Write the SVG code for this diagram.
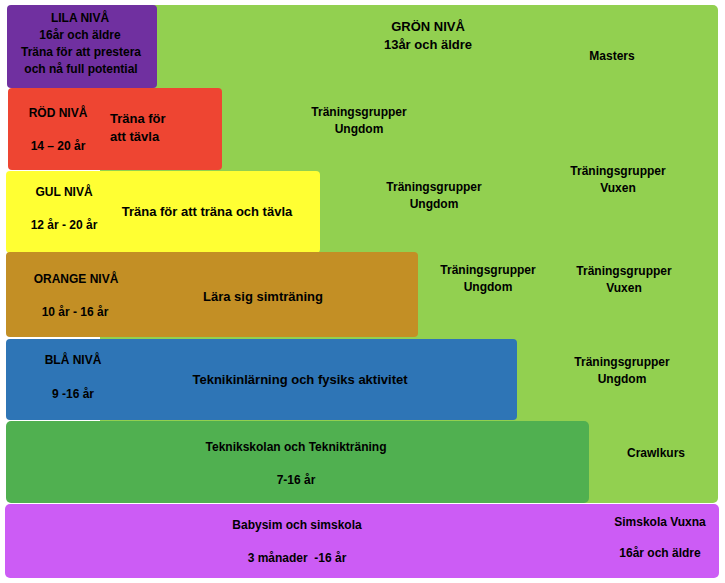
<svg xmlns="http://www.w3.org/2000/svg" width="725" height="583" viewBox="0 0 725 583">
<style>
text{font-family:"Liberation Sans",Arial,sans-serif;font-weight:bold;fill:#000;}
.s12{font-size:12px;}
.s13{font-size:13px;}
.c{text-anchor:middle;}
</style>
<rect width="725" height="583" fill="#ffffff"/>
<g id="gron">
<rect x="100" y="5" width="618" height="498" rx="5" fill="#92D050"/>
<text class="s13 c" x="428" y="31">GRÖN NIVÅ</text>
<text class="s13 c" x="428" y="49">13år och äldre</text>
<text class="s12 c" x="612" y="60">Masters</text>
<text class="s12 c" x="359" y="116">Träningsgrupper</text>
<text class="s12 c" x="359" y="133">Ungdom</text>
<text class="s12 c" x="434" y="191">Träningsgrupper</text>
<text class="s12 c" x="434" y="208">Ungdom</text>
<text class="s12 c" x="618" y="175">Träningsgrupper</text>
<text class="s12 c" x="618" y="192">Vuxen</text>
<text class="s12 c" x="488" y="274">Träningsgrupper</text>
<text class="s12 c" x="488" y="291">Ungdom</text>
<text class="s12 c" x="624" y="275">Träningsgrupper</text>
<text class="s12 c" x="624" y="292">Vuxen</text>
<text class="s12 c" x="622" y="366">Träningsgrupper</text>
<text class="s12 c" x="622" y="383">Ungdom</text>
<text class="s12 c" x="656" y="457">Crawlkurs</text>
</g>
<g id="lila">
<rect x="7" y="5" width="150" height="83" rx="4" fill="#7030A0"/>
<text class="s12 c" x="80" y="22">LILA NIVÅ</text>
<text class="s12 c" x="80" y="39">16år och äldre</text>
<text class="s12 c" x="81" y="56">Träna för att prestera</text>
<text class="s12 c" x="81" y="73">och nå full potential</text>
</g>
<g id="rod">
<rect x="8" y="88" width="214" height="82" rx="4" fill="#EE4532"/>
<text class="s12 c" x="58" y="117">RÖD NIVÅ</text>
<text class="s12 c" x="58" y="150">14 – 20 år</text>
<text class="s13" x="110" y="123">Träna för</text>
<text class="s13" x="110" y="141">att tävla</text>
</g>
<g id="gul">
<rect x="6" y="171" width="314" height="82" rx="4" fill="#FFFF33"/>
<text class="s12 c" x="64" y="196">GUL NIVÅ</text>
<text class="s12 c" x="64" y="229">12 år - 20 år</text>
<text class="s13 c" x="207" y="216">Träna för att träna och tävla</text>
</g>
<g id="orange">
<rect x="6" y="252" width="412" height="85" rx="4" fill="#C38F25"/>
<text class="s12 c" x="76" y="283">ORANGE NIVÅ</text>
<text class="s12 c" x="75" y="316">10 år - 16 år</text>
<text class="s13 c" x="263" y="301">Lära sig simträning</text>
</g>
<g id="bla">
<rect x="6" y="339" width="511" height="81" rx="4" fill="#2E75B6"/>
<text class="s12 c" x="73" y="364">BLÅ NIVÅ</text>
<text class="s12 c" x="73" y="398">9 -16 år</text>
<text class="s13 c" x="300" y="384">Teknikinlärning och fysiks aktivitet</text>
</g>
<g id="teknikskolan">
<rect x="6" y="421" width="583" height="82" rx="5" fill="#50B050"/>
<text class="s12 c" x="296" y="451">Teknikskolan och Teknikträning</text>
<text class="s12 c" x="296" y="484">7-16 år</text>
</g>
<g id="simskola">
<rect x="5" y="504" width="714" height="74" rx="5" fill="#CC5CF5"/>
<text class="s12 c" x="297" y="529">Babysim och simskola</text>
<text class="s12 c" x="297" y="562" xml:space="preserve">3 månader  -16 år</text>
<text class="s12 c" x="660" y="526">Simskola Vuxna</text>
<text class="s12 c" x="660" y="557">16år och äldre</text>
</g>
</svg>
